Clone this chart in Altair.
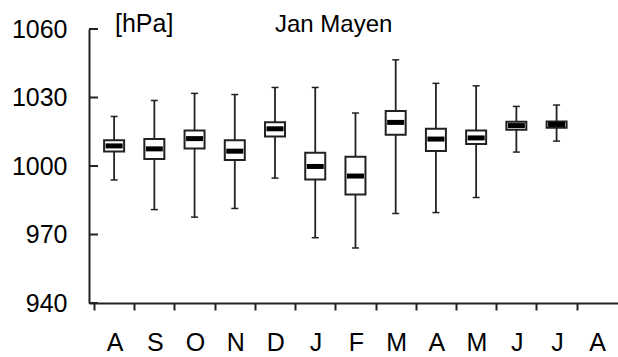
import json

import altair as alt
import pandas as pd

# Monthly sea-level pressure statistics, Jan Mayen (hPa)
months = ["A", "S", "O", "N", "D", "J", "F", "M", "A", "M", "J", "J", "A"]
whisker_low = [993.9, 980.9, 977.6, 981.4, 994.7, 968.6, 964.1, 979.2, 979.6, 986.2, 1006.1, 1010.9]
quart_low = [1006.4, 1003.1, 1007.7, 1002.6, 1012.9, 994.1, 987.5, 1013.7, 1006.6, 1009.6, 1015.9, 1016.7]
median = [1008.8, 1007.5, 1012.0, 1006.5, 1016.3, 999.8, 995.6, 1019.1, 1011.8, 1012.3, 1017.7, 1018.2]
quart_high = [1011.3, 1011.8, 1015.5, 1011.3, 1019.2, 1005.8, 1004.0, 1024.1, 1016.3, 1015.5, 1019.4, 1019.5]
whisker_high = [1021.7, 1028.7, 1031.8, 1031.3, 1034.4, 1034.4, 1023.2, 1046.5, 1036.2, 1035.1, 1026.1, 1026.7]
y_ticks = [940, 970, 1000, 1030, 1060]

FONT = "Liberation Sans"
INK = "#222222"
FS = 25
BAND = 41          # pixel width of one month slot
WIDTH = 529
HEIGHT = 274

df = pd.DataFrame({
    "pos": [i + 0.5 for i in range(len(median))],
    "lo": whisker_low,
    "q1": quart_low,
    "med": median,
    "q3": quart_high,
    "hi": whisker_high,
})
ticks_df = pd.DataFrame({"v": y_ticks})

x_scale = alt.Scale(domain=[0, WIDTH / BAND], nice=False, zero=False)
y_scale = alt.Scale(domain=[y_ticks[0], y_ticks[-1]], nice=False, zero=False)

x_axis = alt.Axis(
    values=list(range(len(months))),
    labelExpr=f"{json.dumps(months)}[datum.value]",
    labelOffset=BAND / 2,
    labelFlush=False,
    labelOverlap=False,
    labelFont=FONT,
    labelFontSize=FS,
    labelColor="black",
    labelPadding=20,
    ticks=True,
    tickSize=7,
    tickWidth=2,
    tickColor=INK,
    domainColor=INK,
    domainWidth=2,
    grid=False,
    title=None,
)
y_axis = alt.Axis(
    values=y_ticks,
    format="d",
    ticks=False,
    labelFont=FONT,
    labelFontSize=FS,
    labelColor="black",
    labelPadding=22,
    domainColor=INK,
    domainWidth=2,
    grid=False,
    title=None,
)

X = alt.X("pos:Q", scale=x_scale, axis=x_axis)

whiskers = alt.Chart(df).mark_rule(color=INK, strokeWidth=1.8).encode(
    x=X,
    y=alt.Y("lo:Q", scale=y_scale, axis=y_axis),
    y2="hi:Q",
)
caps_low = alt.Chart(df).mark_tick(
    orient="horizontal", size=7, thickness=1.5, color=INK, opacity=1
).encode(x=X, y=alt.Y("lo:Q", scale=y_scale, axis=y_axis))
caps_high = alt.Chart(df).mark_tick(
    orient="horizontal", size=7, thickness=1.5, color=INK, opacity=1
).encode(x=X, y=alt.Y("hi:Q", scale=y_scale, axis=y_axis))
boxes = alt.Chart(df).mark_bar(
    size=20, fill="white", stroke=INK, strokeWidth=2, opacity=1
).encode(
    x=X,
    y=alt.Y("q1:Q", scale=y_scale, axis=y_axis),
    y2="q3:Q",
)
medians = alt.Chart(df).mark_tick(
    orient="horizontal", size=17, thickness=5, color="black", opacity=1
).encode(x=X, y=alt.Y("med:Q", scale=y_scale, axis=y_axis))

# inward-pointing ticks on the pressure axis
inner_ticks = alt.Chart(ticks_df).mark_rule(color=INK, strokeWidth=2).encode(
    y=alt.Y("v:Q", scale=y_scale, axis=y_axis),
    x=alt.value(0),
    x2=alt.value(9),
)

unit_label = alt.Chart(alt.InlineData(values=[{}])).mark_text(
    font=FONT, fontSize=FS, color="black", align="left", baseline="alphabetic"
).encode(x=alt.value(26), y=alt.value(3), text=alt.value("[hPa]"))
station_label = alt.Chart(alt.InlineData(values=[{}])).mark_text(
    font=FONT, fontSize=24, color="black", align="left", baseline="alphabetic"
).encode(x=alt.value(186), y=alt.value(3), text=alt.value("Jan Mayen"))

chart = alt.layer(
    whiskers, caps_low, caps_high, boxes, medians, inner_ticks, unit_label, station_label
).properties(
    width=WIDTH,
    height=HEIGHT,
    background="white",
    autosize=alt.AutoSizeParams(type="none"),
    padding={"left": 89, "top": 29, "right": 0, "bottom": 54},
).configure_view(stroke=None)

chart.save("out.html", embed_options={"renderer": "svg", "actions": False})
